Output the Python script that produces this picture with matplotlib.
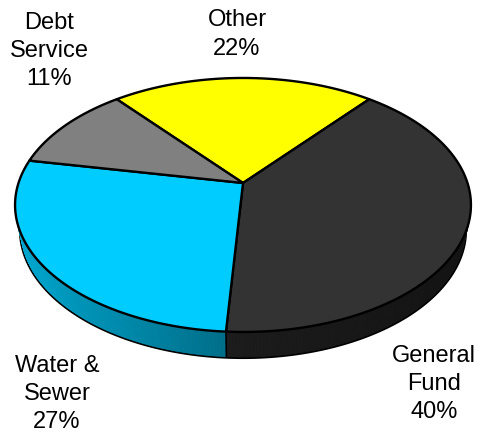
import numpy as np
import matplotlib
matplotlib.use("Agg")
import matplotlib.pyplot as plt

categories = ["Other", "General\nFund", "Water &\nSewer", "Debt\nService"]
shares = [22, 40, 27, 11]
colors = ["#FFFF00", "#333333", "#00CCFF", "#808080"]
rim_left = ["#FFFF00", "#1C1C1C", "#00A6CE", "#808080"]
rim_right = ["#FFFF00", "#141414", "#006F8A", "#808080"]
label_xy = [(237, 34.5), (434, 384), (57, 394), (49, 51)]

W, H = 482, 433
ANGLE0 = -39.6
APEX = (243, 183)
A, C, D = 123.2, -0.173, 224.5
DEPTH = 25
SHRINK = 0.974


def project(theta):
    u, v = np.sin(np.radians(theta)), -np.cos(np.radians(theta))
    w = 1 + C * v
    return APEX[0] + D * u / w, APEX[1] + A * v / w


def lower(x, y):
    return APEX[0] + (x - APEX[0]) * SHRINK, y + DEPTH


fig = plt.figure(figsize=(W / 100, H / 100), dpi=100)
ax = fig.add_axes([0, 0, 1, 1])
ax.set_xlim(0, W)
ax.set_ylim(H, 0)
ax.axis("off")

edges = ANGLE0 + np.cumsum([0] + shares) * 3.6
ring = np.linspace(0, 360, 721)
rx, ry = lower(*project(ring))
ax.fill(rx, ry, facecolor="black", edgecolor="black", lw=3.0, zorder=1)

for i, share in enumerate(shares):
    t = np.linspace(edges[i], edges[i + 1], 200)
    x, y = project(t)
    xl, yl = lower(x, y)
    c0 = np.array(matplotlib.colors.to_rgb(rim_left[i]))
    c1 = np.array(matplotlib.colors.to_rgb(rim_right[i]))
    span = x.max() - x.min()
    for j in range(len(t) - 1):
        f = (min(x[j], x[j + 1]) - x.min()) / span
        col = c0 + (c1 - c0) * f
        ax.fill([x[j], x[j + 1], xl[j + 1], xl[j]],
                [y[j], y[j + 1], yl[j + 1], yl[j]],
                color=col, lw=0.6, zorder=2)

sx, sy = project(edges[2])
sxl, syl = lower(sx, sy)
ax.plot([sx, sxl], [sy, syl], color="black", lw=1.2, zorder=3)

for i, share in enumerate(shares):
    t = np.linspace(edges[i], edges[i + 1], 200)
    x, y = project(t)
    ax.fill(np.r_[APEX[0], x], np.r_[APEX[1], y], facecolor=colors[i],
            edgecolor="black", lw=1.7, joinstyle="round", zorder=4)

for name, share, (lx, ly) in zip(categories, shares, label_xy):
    ax.text(lx, ly, f"{name}\n{share}%", ha="center", va="center", ma="center",
            fontsize=17, family="Liberation Sans", color="black",
            linespacing=1.36, zorder=5)

fig.savefig("out.png", dpi=100, facecolor="white")
